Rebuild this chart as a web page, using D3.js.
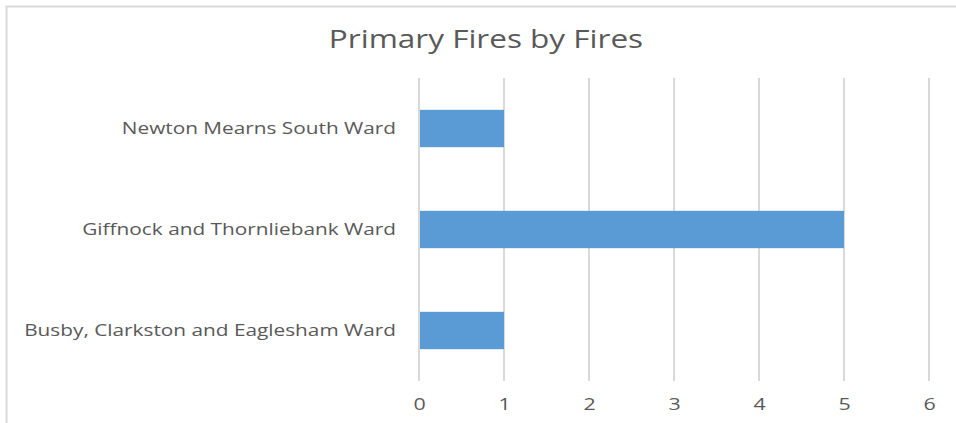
<!DOCTYPE html>
<html>
<head>
<meta charset="utf-8">
<script src="https://cdn.jsdelivr.net/npm/d3@7"></script>
<style>
  body { margin: 0; background: #fff; }
  text { font-family: "Open Sans", sans-serif; fill: #595959; }
</style>
</head>
<body>
<svg id="chart"></svg>
<script>
const wards = [
  "Newton Mearns South Ward",
  "Giffnock and Thornliebank Ward",
  "Busby, Clarkston and Eaglesham Ward",
];
const fires = [1, 5, 1];
const xTicks = [0, 1, 2, 3, 4, 5, 6];
const title = "Primary Fires by Fires";

const width = 956;
const height = 423;
const margin = { top: 78, right: 27, bottom: 42, left: 419 };
// the source picture is stretched sideways, so text is widened to match
const stretch = 1.26;

const svg = d3.select("#chart").attr("width", width).attr("height", height);

// chart frame, runs off the right and bottom edges
svg
  .append("rect")
  .attr("x", 6.5)
  .attr("y", 6.5)
  .attr("width", 980)
  .attr("height", 440)
  .attr("fill", "none")
  .attr("stroke", "#d9d9d9")
  .attr("stroke-width", 2);

const x = d3
  .scaleLinear()
  .domain([0, 6])
  .range([margin.left, width - margin.right]);
const y = d3
  .scaleBand()
  .domain(wards)
  .range([margin.top, height - margin.bottom])
  .paddingInner(0.63)
  .paddingOuter(0.315);

svg
  .append("g")
  .selectAll("line")
  .data(xTicks)
  .join("line")
  .attr("x1", (d) => x(d))
  .attr("x2", (d) => x(d))
  .attr("y1", margin.top)
  .attr("y2", height - margin.bottom)
  .attr("stroke", "#d9d9d9")
  .attr("stroke-width", 2);

svg
  .append("g")
  .selectAll("rect")
  .data(wards)
  .join("rect")
  .attr("x", x(0) + 1)
  .attr("y", (d) => y(d))
  .attr("width", (d, i) => x(fires[i]) - x(0) - 1)
  .attr("height", y.bandwidth())
  .attr("fill", "#5b9bd5");

function widen(sel) {
  sel.each(function () {
    const w = this.getComputedTextLength();
    d3.select(this)
      .attr("textLength", w * stretch)
      .attr("lengthAdjust", "spacingAndGlyphs");
  });
}

const xAxis = svg
  .append("g")
  .attr("transform", `translate(0,${height - margin.bottom})`)
  .call(
    d3
      .axisBottom(x)
      .tickValues(xTicks)
      .tickFormat(d3.format("d"))
      .tickSize(0)
      .tickPadding(17)
  );
xAxis.select(".domain").remove();
xAxis.selectAll("text").attr("font-size", 17).attr("font-family", null).call(widen);

const yAxis = svg
  .append("g")
  .attr("transform", `translate(${margin.left},0)`)
  .call(d3.axisLeft(y).tickSize(0).tickPadding(23));
yAxis.select(".domain").remove();
yAxis.selectAll("text").attr("font-size", 16.5).attr("font-family", null).call(widen);

svg
  .append("text")
  .attr("x", 486)
  .attr("y", 48)
  .attr("text-anchor", "middle")
  .attr("font-size", 25)
  .text(title)
  .call(widen);
</script>
</body>
</html>
